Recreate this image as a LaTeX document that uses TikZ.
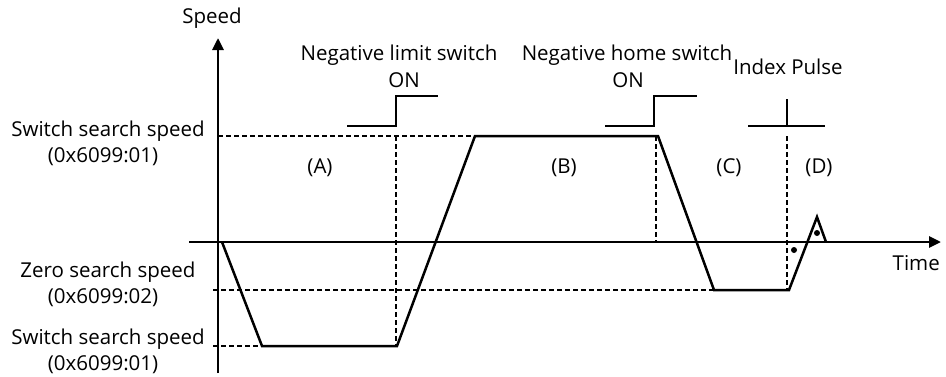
\documentclass[tikz,border=0pt]{standalone}
\usepackage{fontspec}
\setmainfont{Open Sans}
\usetikzlibrary{arrows.meta}
\begin{document}
\begin{tikzpicture}[x=1pt,y=-1pt,
  axis/.style={line width=2.8pt},
  prof/.style={line width=2.5pt,line join=miter},
  guide/.style={line width=2.1pt,dash pattern=on 5pt off 3pt},
  sig/.style={line width=2.3pt},
  lbl/.style={inner sep=0pt,font=\fontsize{20.5}{24}\selectfont},
  dotm/.style={circle,fill=black,inner sep=0pt,minimum size=6pt}]
\useasboundingbox (0,0) rectangle (946,376);
% axes
\coordinate (yb) at (218,373);
\coordinate (yt) at (218,38);
\coordinate (xl) at (189,242);
\coordinate (xr) at (941,242);
% profile points
\coordinate (p0) at (222,242);
\coordinate (p1) at (262,346);
\coordinate (p2) at (397,346);
\coordinate (p3) at (475,136);
\coordinate (p4) at (658,136);
\coordinate (p5) at (714,290);
\coordinate (p6) at (789,290);
\coordinate (p7) at (817,217);
\coordinate (p8) at (826,242);
% guide ends
\coordinate (g1a) at (218,136);
\coordinate (g2a) at (213,290);
\coordinate (g3a) at (213,346);
\coordinate (v1t) at (396,136);
\coordinate (v1b) at (396,346);
\coordinate (v2t) at (656,136);
\coordinate (v2b) at (656,242);
\coordinate (v3t) at (787,136);
\coordinate (v3b) at (787,290);
% guides
\draw[guide] (g1a) -- (p3);
\draw[guide] (g2a) -- (p5);
\draw[guide] (g3a) -- (p1);
\draw[guide] (v1t) -- (v1b);
\draw[guide] (v2t) -- (v2b);
\draw[guide] (v3t) -- (v3b);
% axes
\draw[axis,-{Triangle[length=12pt,width=11pt]}] (yb) -- (yt);
\draw[axis,-{Triangle[length=12pt,width=11pt]}] (xl) -- (xr);
% profile
\draw[prof] (p0) -- (p1) -- (p2) -- (p3) -- (p4) -- (p5) -- (p6) -- (p7) -- (p8);
% signals
\coordinate (s1a) at (347,126); \coordinate (s1b) at (396,126);
\coordinate (s1c) at (396,96);  \coordinate (s1d) at (438,96);
\draw[sig] (s1a) -- (s1b) -- (s1c) -- (s1d);
\coordinate (s2a) at (605,126); \coordinate (s2b) at (654,126);
\coordinate (s2c) at (654,96);  \coordinate (s2d) at (697,96);
\draw[sig] (s2a) -- (s2b) -- (s2c) -- (s2d);
\coordinate (s3a) at (748,126); \coordinate (s3b) at (825,126);
\coordinate (s3c) at (787,126); \coordinate (s3d) at (787,99);
\draw[sig] (s3a) -- (s3b);
\draw[sig] (s3c) -- (s3d);
% dots
\node[dotm] (d1) at (794,250) {};
\node[dotm] (d2) at (817,233) {};
% labels
\node[lbl] (speed) at (212,18) {Speed};
\node[lbl,anchor=east] (time) at (940,263) {Time};
\node[lbl] (nls) at (399,55) {Negative limit switch};
\node[lbl] (nlson) at (404,80) {ON};
\node[lbl] (nhs) at (627,55) {Negative home switch};
\node[lbl] (nhson) at (628,80) {ON};
\node[lbl] (idx) at (788,67) {Index Pulse};
\node[lbl] (A) at (320,168) {(A)};
\node[lbl] (B) at (564,168) {(B)};
\node[lbl] (C) at (729,168) {(C)};
\node[lbl] (D) at (819,168) {(D)};
\node[lbl,anchor=east] (ss1) at (205,131) {Switch search speed};
\node[lbl] (ss1c) at (103,157) {(0x6099:01)};
\node[lbl] (zs) at (108,272) {Zero search speed};
\node[lbl] (zsc) at (103,298) {(0x6099:02)};
\node[lbl,anchor=east] (ss2) at (205,339) {Switch search speed};
\node[lbl] (ss2c) at (103,365) {(0x6099:01)};
\end{tikzpicture}
\end{document}
